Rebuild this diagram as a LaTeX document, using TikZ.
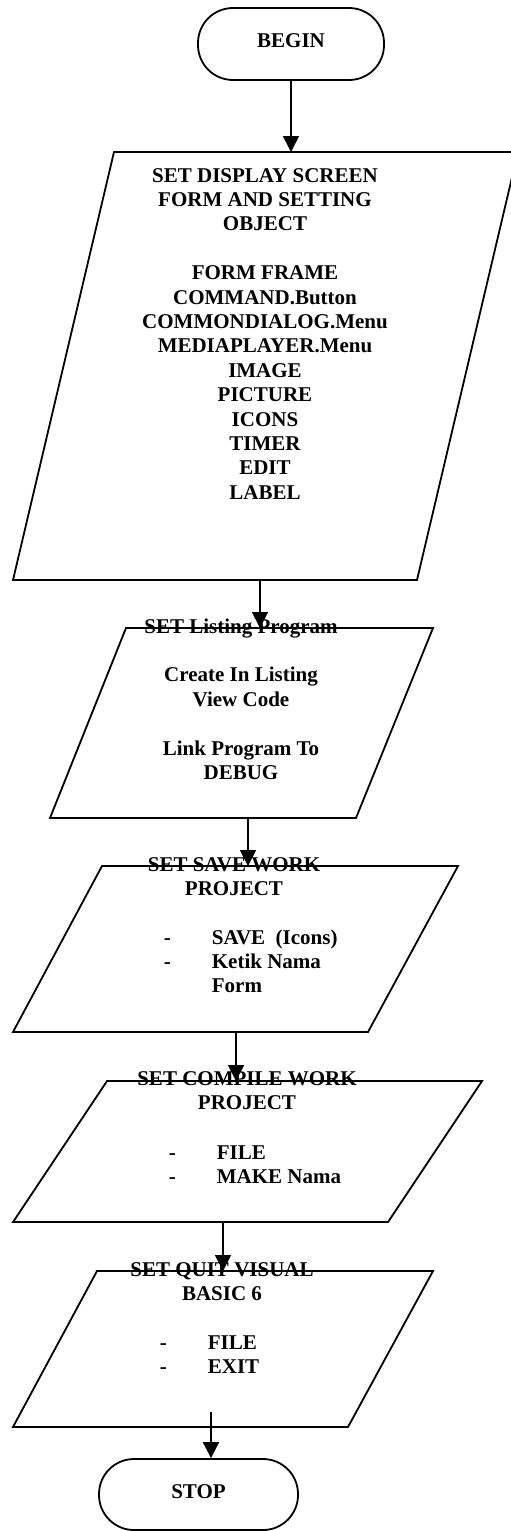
\documentclass[tikz,border=0pt]{standalone}
\usepackage{fontspec}
\setmainfont{Liberation Serif}
\usepackage{tikz}
\usetikzlibrary{arrows.meta}

\begin{document}
\begin{tikzpicture}[x=1pt,y=-1pt,
    line width=1.8pt,
    term/.style={draw,rounded corners=35pt,minimum width=186pt,minimum height=72pt,text depth=6pt},
    txt/.style={align=center,inner sep=0pt,anchor=base},
    lst/.style={inner sep=0pt,anchor=base west},
    arr/.style={-{Triangle[length=16pt,width=16pt]}},
    every node/.style={font=\bfseries\fontsize{21}{24.4}\selectfont}]
            \clip (0,0) rectangle (511,1531);
            % start and stop
            \node[term] (begin) at (291,44) {BEGIN};
            \node[term,minimum width=199pt,minimum height=71pt] (stop) at (198.5,1494.5) {STOP};
            % input/output boxes
            \draw (114,152) -- (518,152) -- (417,580) -- (13,580) -- cycle;
            \draw (126,628) -- (433,628) -- (356,818) -- (50,818) -- cycle;
            \draw (102,866) -- (458,866) -- (368,1032) -- (13,1032) -- cycle;
            \draw (107,1081) -- (482,1081) -- (388,1222) -- (13,1222) -- cycle;
            \draw (97,1271) -- (433,1271) -- (348,1427) -- (13,1427) -- cycle;
            % texts, placed by the baseline of their last line
            \node[txt] (setdisplay) at (265,499.2) {SET DISPLAY SCREEN\\FORM AND SETTING\\OBJECT\\[24.4pt]FORM FRAME\\COMMAND.Button\\COMMONDIALOG.Menu\\MEDIAPLAYER.Menu\\IMAGE\\PICTURE\\ICONS\\TIMER\\EDIT\\LABEL};
            \node[txt] (setlisting) at (241,779.4) {SET Listing Program\\[24.4pt]Create In Listing\\View Code\\[24.4pt]Link Program To\\DEBUG};
            \node[txt] (setsave) at (234,895.4) {SET SAVE WORK\\PROJECT};
            \node[lst] (savelist) at (163,944) {\begin{tabular}[t]{@{}p{48pt}@{}l@{}}-&SAVE~~(Icons)\\-&Ketik Nama\\&Form\end{tabular}};
            \node[txt] (setcompile) at (247,1109.4) {SET COMPILE WORK\\PROJECT};
            \node[lst] (compilelist) at (168,1159) {\begin{tabular}[t]{@{}p{48pt}@{}l@{}}-&FILE\\-&MAKE Nama\end{tabular}};
            \node[txt] (setquit) at (222,1300.4) {SET QUIT VISUAL\\BASIC 6};
            \node[lst] (quitlist) at (159,1349) {\begin{tabular}[t]{@{}p{48pt}@{}l@{}}-&FILE\\-&EXIT\end{tabular}};
            % arrow ends
            \coordinate (in1) at (291,152);
            \coordinate (out1) at (260,580);
            \coordinate (in2) at (260,628);
            \coordinate (out2) at (248,818);
            \coordinate (in3) at (248,866);
            \coordinate (out3) at (236,1032);
            \coordinate (in4) at (236,1081);
            \coordinate (out4) at (223,1222);
            \coordinate (in5) at (223,1271);
            \coordinate (out5) at (211,1412);
            \draw[arr] (begin.south) -- (in1);
            \draw[arr] (out1) -- (in2);
            \draw[arr] (out2) -- (in3);
            \draw[arr] (out3) -- (in4);
            \draw[arr] (out4) -- (in5);
            \draw[arr] (out5) -- (stop.north -| out5);
        \end{tikzpicture}
\end{document}
